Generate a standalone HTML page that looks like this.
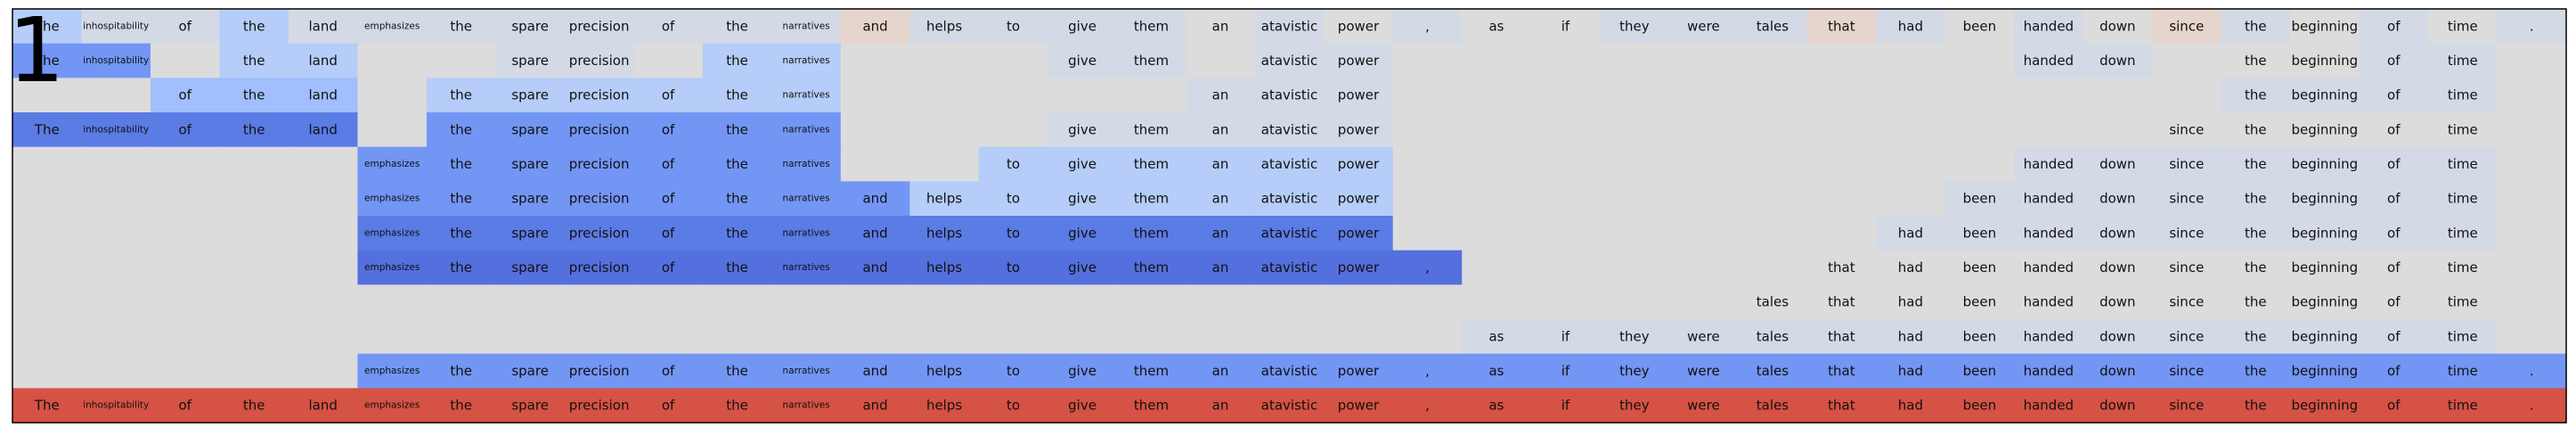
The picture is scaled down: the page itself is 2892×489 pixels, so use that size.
<!DOCTYPE html>
<html><head><meta charset="utf-8">
<style>
html,body{margin:0;padding:0;background:#fff;}
svg{display:block;}
text{font-family:"DejaVu Sans","Liberation Sans",sans-serif;}
</style></head>
<body>
<svg id="chart" width="2892" height="489" viewBox="0 0 2892 489"></svg>
<script>
const tokens = ["The","inhospitability","of","the","land","emphasizes","the","spare","precision","of","the","narratives","and","helps","to","give","them","an","atavistic","power",",","as","if","they","were","tales","that","had","been","handed","down","since","the","beginning","of","time","."];
// '.' = empty gray cell, 'g' = gray cell with text, other letters = colored cells with text
const row0  = "LPPLPPPPPPPPKPPPPgPgPggPPPKPgPgKPgPgP";
const row1  = "BB.LL..PP.LL...PP.PP.........PP.ggPP.";
const row2  = "..MMM.LLLLLL.....PPP............PPPP.";
const row3  = "DDDDD.BBBBBB...PPPPP...........ggggg.";
const row4  = ".....BBBBBBB..LLLLLL.........PPPPPPP.";
const row5  = ".....BBBBBBBBLLLLLLL........PPPPPPPP.";
const row6  = ".....DDDDDDDDDDDDDDD.......PPPPPPPPP.";
const row7  = ".....EEEEEEEEEEEEEEEE.....gggggggggg.";
const row8  = ".........................ggggggggggg.";
const row9  = ".....................PPPPPPPPPPPPPPP.";
const row10 = ".....BBBBBBBBBBBBBBBBBBBBBBBBBBBBBBBB";
const row11 = "RRRRRRRRRRRRRRRRRRRRRRRRRRRRRRRRRRRRR";
const rows = [row0,row1,row2,row3,row4,row5,row6,row7,row8,row9,row10,row11];
const palette = {'.':'#dcdcdc','g':'#dcdcdc','P':'#d3dae6','L':'#b5cdf8','M':'#a0bffc','B':'#7396f5','D':'#5b7be5','E':'#5470de','K':'#e6d5cc','R':'#d65244'};
const smallWords = ["inhospitability","emphasizes","narratives"];

const NS="http://www.w3.org/2000/svg";
const svg=document.getElementById('chart');
const X0=14, Y0=10, W=2867, H=464;
const cw=W/tokens.length, rh=H/rows.length;
function xPos(i){return X0+i*cw;}
function yPos(r){return Y0+r*rh;}

const bg=document.createElementNS(NS,'rect');
bg.setAttribute('x',X0);bg.setAttribute('y',Y0);bg.setAttribute('width',W);bg.setAttribute('height',H);bg.setAttribute('fill','#dcdcdc');


svg.appendChild(bg);

rows.forEach((codes,r)=>{
  for(let i=0;i<tokens.length;i++){
    const c=codes[i]||'.';
    const rect=document.createElementNS(NS,'rect');
    rect.setAttribute('x',xPos(i));rect.setAttribute('y',yPos(r));
    rect.setAttribute('width',cw+0.6);rect.setAttribute('height',rh+0.6);
    rect.setAttribute('fill',palette[c]);
    
    
    svg.appendChild(rect);
    if(c!=='.'){
      const t=document.createElementNS(NS,'text');
      t.setAttribute('x',xPos(i)+cw/2);t.setAttribute('y',yPos(r)+rh/2);
      t.setAttribute('text-anchor','middle');t.setAttribute('dominant-baseline','central');
      t.setAttribute('font-size',smallWords.includes(tokens[i])?'10.5':'15');
      t.setAttribute('fill','#111');
      t.textContent=tokens[i];
      
      
      svg.appendChild(t);
    }
  }
});

const frame=document.createElementNS(NS,'rect');
frame.setAttribute('x',X0);frame.setAttribute('y',Y0);frame.setAttribute('width',W);frame.setAttribute('height',H);
frame.setAttribute('fill','none');frame.setAttribute('stroke','#000');frame.setAttribute('stroke-width','1.5');


svg.appendChild(frame);

const num=document.createElementNS(NS,'text');
num.setAttribute('x','9');num.setAttribute('y','91');
num.setAttribute('font-size','100');num.setAttribute('fill','#000');
num.textContent='1';


svg.appendChild(num);
</script>
</body></html>
